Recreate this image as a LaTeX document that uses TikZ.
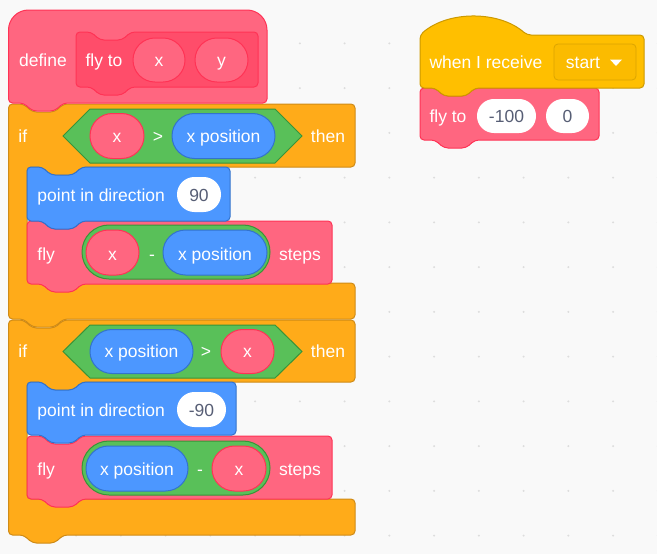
\documentclass[tikz,border=0pt]{standalone}
\usepackage{fontspec}
\setmainfont{Liberation Sans}
\definecolor{bg}{HTML}{F9F9F9}
\definecolor{dotc}{HTML}{DDDDDD}
\definecolor{ctl}{HTML}{FFAB19}
\definecolor{ctlb}{HTML}{CF8B17}
\definecolor{cust}{HTML}{FF6680}
\definecolor{custd}{HTML}{FF4D6A}
\definecolor{custb}{HTML}{FF3355}
\definecolor{mot}{HTML}{4C97FF}
\definecolor{motb}{HTML}{3373CC}
\definecolor{opc}{HTML}{59C059}
\definecolor{opb}{HTML}{389438}
\definecolor{evt}{HTML}{FFBF00}
\definecolor{evtd}{HTML}{FBBB00}
\definecolor{evtb}{HTML}{CC9900}
\definecolor{txtgrey}{HTML}{575E75}
\newcommand\blkfont{\fontsize{17.5}{20}\selectfont}
% stack block: L T R B fill draw
\newcommand\stackblock[6]{%
\draw[fill=#5,draw=#6,rounded corners=4pt] (#1,#2+20) -- (#1,#2) -- (#1+15,#2) -- (#1+24,#2+8) -- (#1+46,#2+8) -- (#1+55,#2) -- (#3,#2) -- (#3,#4) -- (#1+55,#4) -- (#1+46,#4+8) -- (#1+24,#4+8) -- (#1+15,#4) -- (#1,#4) -- cycle;}
% C block: L T H F B R
\newcommand\cblock[6]{%
\draw[fill=ctl,draw=ctlb,rounded corners=4pt] (#1,#2+20) -- (#1,#2) -- (#1+15,#2) -- (#1+24,#2+8) -- (#1+46,#2+8) -- (#1+55,#2) -- (#6,#2) -- (#6,#3) -- (#1+73.5,#3) -- (#1+64.5,#3+8) -- (#1+42.5,#3+8) -- (#1+33.5,#3) -- (#1+18.5,#3) -- (#1+18.5,#4) -- (#6,#4) -- (#6,#5) -- (#1+55,#5) -- (#1+46,#5+8) -- (#1+24,#5+8) -- (#1+15,#5) -- (#1,#5) -- cycle;}
% pill: x1 y1 x2 y2 fill draw
\newcommand\pill[6]{\pgfmathsetmacro\pillr{abs(#4-#2)/2-0.05}%
\draw[fill=#5,draw=#6,rounded corners=\pillr pt] (#1,#2) rectangle (#3,#4);}
\begin{document}
\begin{tikzpicture}[x=1pt,y=-1pt,line width=1pt,
  wt/.style={text=white,font=\blkfont,anchor=base,inner sep=0pt},
  gt/.style={wt,text=txtgrey},
  wl/.style={wt,anchor=base west}]
\useasboundingbox (0,0) rectangle (657,554);
\fill[bg] (0,0) rectangle (657,554);
\foreach \i in {-8,...,6}{\foreach \j in {0,...,12}{
  \fill[dotc] (389.3+44.75*\i,-1.4+44.75*\j) circle (1.1pt);}}
% ---------- if 2 ----------
\cblock{8.5}{320}{382}{499}{535}{355}
\draw[fill=opc,draw=opb] (63,351.5) -- (90,325) -- (275,325) -- (302,351.5) -- (275,378) -- (90,378) -- cycle;
\pill{90}{329.5}{193}{373.5}{mot}{motb}
\pill{221}{329.5}{274}{373.5}{cust}{custb}
\node[wl] (if2) at (18,357.5) {if};
\node[wt] (then2) at (328,357.5) {then};
\node[wt] (xp3) at (141.5,357.5) {x position};
\node[wt] (gt2) at (206,357.5) {>};
\node[wt] (x3) at (247.5,357.5) {x};
% fly 2
\stackblock{27}{436}{332}{499}{cust}{custb}
\pill{82}{441}{270}{495}{opc}{opb}
\pill{86}{446}{188}{491}{mot}{motb}
\pill{212}{446}{266}{491}{cust}{custb}
\node[wl] (fly2) at (37,475) {fly};
\node[wt] (xp4) at (137,475) {x position};
\node[wt] (mi2) at (200,475) {-};
\node[wt] (x4) at (239,475) {x};
\node[wt] (st2) at (300,475) {steps};
% point 2
\stackblock{27}{382}{236}{435}{mot}{motb}
\pill{177}{392}{226}{427}{white}{none}
\node[wl] (pd2) at (37,416) {point in direction};
\node[gt] (n90b) at (201.5,416) {-90};
% ---------- if 1 ----------
\cblock{8.5}{104}{167}{283}{319}{355}
\draw[fill=opc,draw=opb] (63,136) -- (90,109) -- (275,109) -- (302,136) -- (275,163) -- (90,163) -- cycle;
\pill{90}{113.5}{144}{158.5}{cust}{custb}
\pill{172}{113.5}{275}{158.5}{mot}{motb}
\node[wl] (if1) at (18,142.5) {if};
\node[wt] (then1) at (328,142.5) {then};
\node[wt] (x1) at (117,142.5) {x};
\node[wt] (gt1) at (158,142.5) {>};
\node[wt] (xp1) at (223.5,142.5) {x position};
% fly 1
\stackblock{27}{221}{332}{284}{cust}{custb}
\pill{82}{225}{270}{279}{opc}{opb}
\pill{86}{230}{139}{275}{cust}{custb}
\pill{163}{230}{267}{275}{mot}{motb}
\node[wl] (fly1) at (37,260.5) {fly};
\node[wt] (x2) at (112.5,260.5) {x};
\node[wt] (mi1) at (152,260.5) {-};
\node[wt] (xp2) at (215,260.5) {x position};
\node[wt] (st1) at (300,260.5) {steps};
% point 1
\stackblock{27}{167}{230}{221}{mot}{motb}
\pill{177}{177}{221}{212}{white}{none}
\node[wl] (pd1) at (37,201.5) {point in direction};
\node[gt] (n90) at (199,201.5) {90};
% ---------- define hat ----------
\draw[fill=cust,draw=custb] (138,10) [rounded corners=20pt] -- (267,10) -- (267,60) [rounded corners=4pt] -- (267,103) -- (63.5,103) -- (54.5,111) -- (32.5,111) -- (23.5,103) -- (8.5,103) -- (8.5,60) [rounded corners=20pt] -- (8.5,10) -- cycle;
\stackblock{76}{32}{258}{87}{custd}{custb}
\pill{133}{38}{185}{82}{cust}{custb}
\pill{195}{38}{248}{82}{cust}{custb}
\node[wt] (def) at (43,66.5) {define};
\node[wt] (flyto1) at (104,66.5) {fly to};
\node[wt] (ax) at (159,66.5) {x};
\node[wt] (ay) at (221.5,66.5) {y};
% ---------- right script ----------
\stackblock{420}{88}{599}{140}{cust}{custb}
\pill{477}{99}{536}{133}{white}{none}
\pill{546}{99}{589}{133}{white}{none}
\node[wl] (flyto2) at (429,122.5) {fly to};
\node[gt] (m100) at (506.5,122.5) {-100};
\node[gt] (zero) at (567.5,122.5) {0};
\draw[fill=evt,draw=evtb,rounded corners=4pt] (420,60) -- (420,35) .. controls (448,10.5) and (499,10.5) .. (527,35) -- (644,35) -- (644,88) -- (475,88) -- (466,96) -- (444,96) -- (435,88) -- (420,88) -- cycle;
\draw[fill=evtd,draw=evtb!70!evt,line width=0.8pt,rounded corners=4pt] (554,44) rectangle (636,80);
\node[wl] (wir) at (429,68.5) {when I receive};
\node[wt] (start) at (583,68.5) {start};
\fill[white] (610,59.5) -- (622,59.5) -- (616,66) -- cycle;
\end{tikzpicture}
\end{document}
